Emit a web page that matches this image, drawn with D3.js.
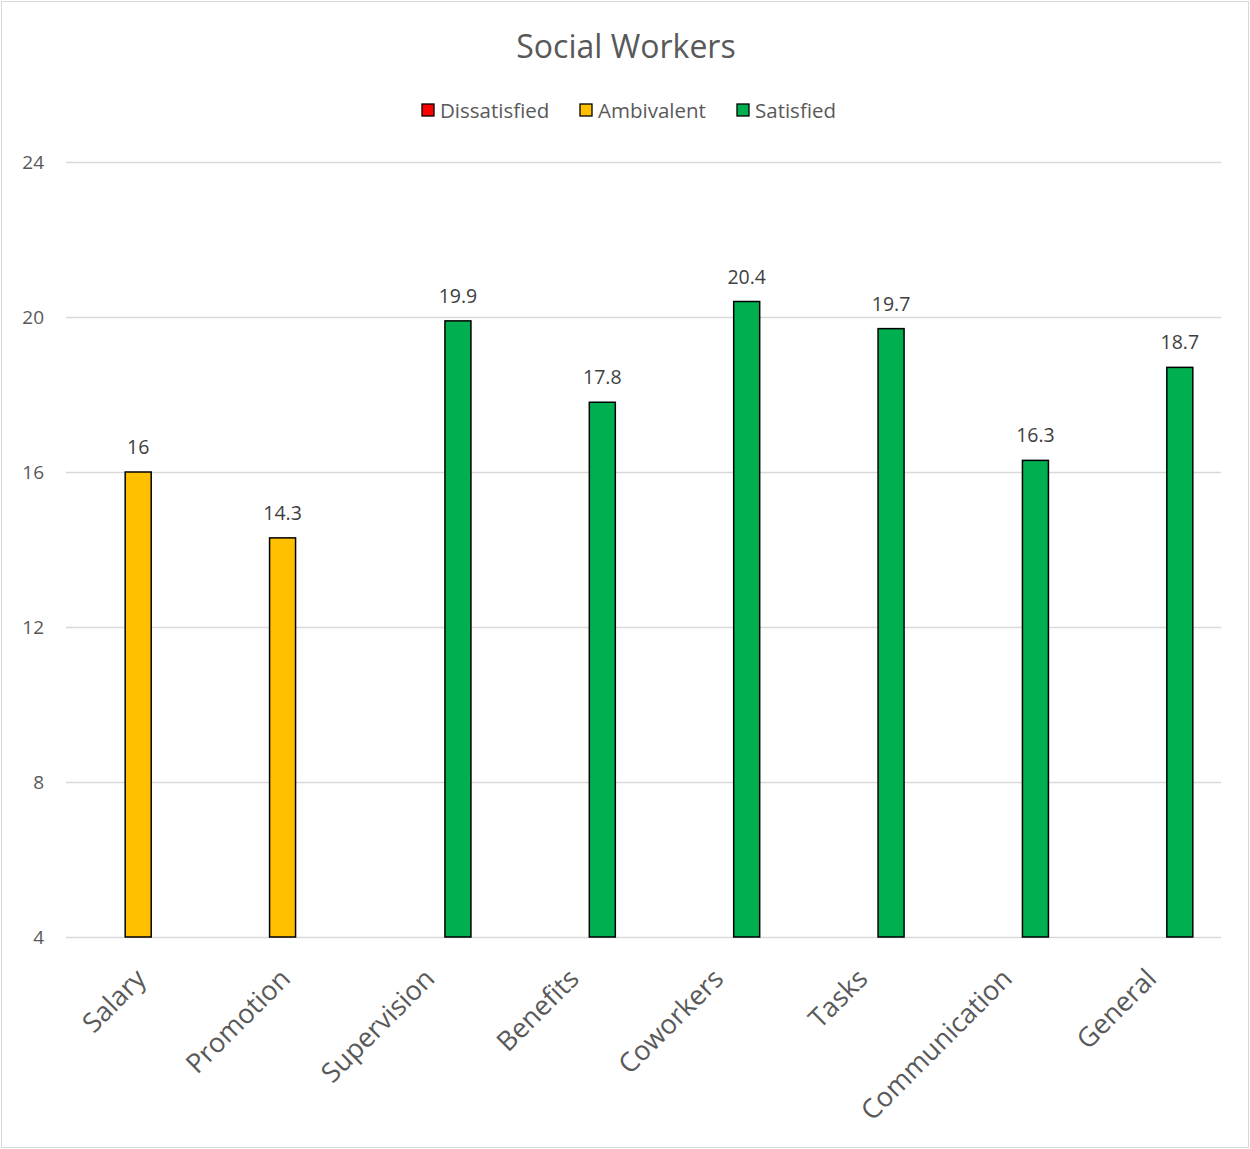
<!DOCTYPE html>
<html><head><meta charset="utf-8">
<script src="https://cdn.jsdelivr.net/npm/d3@7"></script>
<style>body{margin:0;background:#fff;} text{font-family:"Open Sans",sans-serif;}</style>
</head><body>
<svg id="c" width="1250" height="1149"></svg>
<script>
const categories = ["Salary","Promotion","Supervision","Benefits","Coworkers","Tasks","Communication","General"];
const values = [16, 14.3, 19.9, 17.8, 20.4, 19.7, 16.3, 18.7];
const status = ["Ambivalent","Ambivalent","Satisfied","Satisfied","Satisfied","Satisfied","Satisfied","Satisfied"];
const seriesNames = ["Dissatisfied","Ambivalent","Satisfied"];
const seriesColors = ["#FF0000","#FFC000","#00B050"];
const yTicks = [4, 8, 12, 16, 20, 24];

const svg = d3.select("#c");
const W = 1250, H = 1149;
svg.append("rect").attr("x",1.5).attr("y",1.5).attr("width",W-3).attr("height",H-3)
  .attr("fill","#fff").attr("stroke","#D9D9D9").attr("stroke-width",1);

const m = {l:66, r:1221, t:162, b:937};
const x = d3.scaleBand().domain(categories).range([m.l, m.r]).paddingInner(0).paddingOuter(0);
const x1 = d3.scaleBand().domain(seriesNames).range([-46.5, 46.5]).padding(0);
const y = d3.scaleLinear().domain([4, 24]).range([m.b, m.t]);
const color = d3.scaleOrdinal().domain(seriesNames).range(seriesColors);

// title
svg.append("text").attr("x", 626).attr("y", 58).attr("text-anchor","middle")
  .attr("font-size", 32).attr("fill","#595959").text("Social Workers");

// gridlines
const yAxis = d3.axisLeft(y).tickValues(yTicks).tickSize(-(m.r-m.l)).tickFormat(d3.format("d"));
const gy = svg.append("g").attr("transform",`translate(${m.l},0)`).call(yAxis);
gy.select(".domain").remove();
gy.selectAll(".tick line").attr("stroke","#D9D9D9").attr("stroke-width",1.3);
gy.selectAll(".tick text").attr("x",-22).attr("font-size",19).attr("fill","#595959")
  .attr("font-family","'Open Sans',sans-serif");

// bars
const bw = 26;
const cx = (d,i) => x(d) + x.bandwidth()/2 + x1(status[i]) + x1.bandwidth()/2;
svg.append("g").selectAll("rect").data(categories).join("rect")
  .attr("x", (d,i) => cx(d,i) - bw/2)
  .attr("y", (d,i) => y(values[i]))
  .attr("width", bw)
  .attr("height", (d,i) => y(4) - y(values[i]))
  .attr("fill", (d,i) => color(status[i]))
  .attr("stroke", "#000").attr("stroke-width", 1.5);

// value labels
svg.append("g").selectAll("text").data(categories).join("text")
  .attr("x", (d,i) => cx(d,i))
  .attr("y", (d,i) => y(values[i]) - 18)
  .attr("text-anchor","middle").attr("font-size",19.5).attr("fill","#404040")
  .text((d,i) => values[i]);

// x labels
const xAxis = d3.axisBottom(x).tickSize(0);
const gx = svg.append("g").attr("transform",`translate(0,${m.b})`).call(xAxis);
gx.select(".domain").remove();
gx.selectAll(".tick text")
  .attr("font-size",27).attr("fill","#595959").attr("font-family","'Open Sans',sans-serif")
  .attr("text-anchor","end")
  .attr("transform","translate(-4,30) rotate(-45)")
  .attr("x",0).attr("y",0).attr("dy","0.7em");

// legend
const legX = [422, 580, 737];
const lg = svg.append("g").selectAll("g").data(seriesNames).join("g")
  .attr("transform",(d,i)=>`translate(${legX[i]},104)`);
lg.append("rect").attr("width",12).attr("height",12).attr("fill",d=>color(d))
  .attr("stroke","#000").attr("stroke-width",1.3);
lg.append("text").attr("x",18).attr("y",13.5).attr("font-size",20.5).attr("fill","#595959").text(d=>d);
</script>
</body></html>
